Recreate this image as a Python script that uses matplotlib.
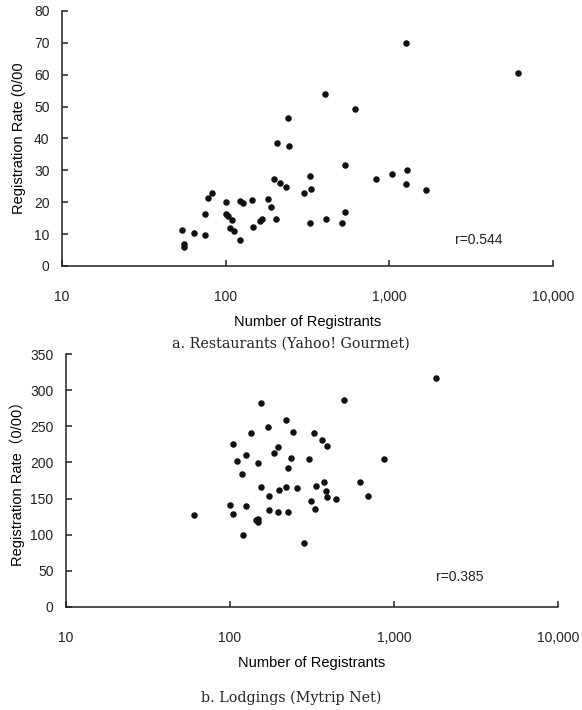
"""Two log-x scatter panels: registration rate vs number of registrants."""
import matplotlib

matplotlib.use("Agg")
import matplotlib.pyplot as plt

plt.rcParams["font.family"] = ["Liberation Sans", "Noto Sans CJK JP", "DejaVu Sans"]

# panel a: restaurants
rest_n = [54, 56, 56, 64, 75, 75, 78, 82, 101, 101, 104, 110, 106, 112, 122, 122,
          128, 145, 147, 163, 166, 181, 190, 202, 198, 207, 216, 234, 242, 245,
          302, 327, 330, 327, 403, 413, 512, 534, 534, 1271, 6124, 618, 830,
          1033, 1288, 1259, 1667]
rest_rate = [11.4, 6.9, 6.1, 10.3, 16.3, 9.8, 21.3, 22.8, 20.1, 16.4, 15.6, 14.4,
             11.9, 11.1, 8.0, 20.4, 19.9, 20.7, 12.3, 14.2, 14.9, 21.1, 18.4, 14.7,
             27.4, 38.5, 26.1, 24.8, 46.5, 37.5, 22.8, 28.3, 24.3, 13.5, 54.0, 14.7,
             13.5, 31.6, 16.8, 70.0, 60.7, 49.4, 27.2, 29.0, 30.1, 25.8, 23.7]

# panel b: lodgings
lodg_n = [60, 99.5, 105, 105, 110, 119, 120, 125, 125, 134, 144, 149, 149, 149,
          155, 155, 170, 174, 174, 185, 195, 195, 199, 218, 218, 226, 226, 236,
          241, 255, 282, 303, 311, 324, 331, 334, 362, 374, 385, 392, 392, 440,
          498, 1811, 865, 621, 694]
lodg_rate = [127, 141, 128, 225.5, 202, 184, 100, 210, 140, 241, 120.5, 122, 117,
             199, 281.6, 165.7, 249, 153, 134, 213, 221.7, 131, 162, 259, 166.5,
             192, 132, 206, 241.6, 164, 89, 205, 147, 240.6, 135, 167.5, 231, 173,
             160.6, 223, 152, 149.5, 286.6, 317, 204.7, 172.6, 153]

x_ticks = [10, 100, 1000, 10000]
x_tick_labels = ["10", "100", "1,000", "10,000"]

W, H = 582, 710
fig = plt.figure(figsize=(W / 100, H / 100), dpi=100)


def px_axes(left, top, right, bottom):
    return fig.add_axes([left / W, 1 - bottom / H, (right - left) / W, (bottom - top) / H])


def style(ax, ymax, ystep):
    ax.set_xscale("log")
    ax.set_xlim(10, 10000)
    ax.set_ylim(0, ymax)
    ax.set_xticks(x_ticks)
    ax.set_xticklabels(x_tick_labels)
    ax.minorticks_off()
    ax.set_yticks(range(0, ymax + 1, ystep))
    for s in ("top", "right"):
        ax.spines[s].set_visible(False)
    for s in ("left", "bottom"):
        ax.spines[s].set_linewidth(1.1)
        ax.spines[s].set_color("#222222")
    ax.tick_params(direction="in", length=4, width=1.1, labelsize=10, colors="#222222")
    ax.tick_params(axis="x", pad=17)
    ax.tick_params(axis="y", pad=9)
    ax.set_xlabel("Number of Registrants", fontsize=10.5, labelpad=8)


ax1 = px_axes(62, 11, 553, 266)
ax1.scatter(rest_n, rest_rate, s=22, color="#111111", linewidths=0, zorder=3)
style(ax1, 80, 10)
ax1.set_ylabel("Registration Rate (0/00", fontsize=10.5, labelpad=6)
ax1.text(3500, 8, "r=0.544", fontsize=10, ha="center", va="center", color="#222222")

ax2 = px_axes(66, 354, 558, 607)
ax2.scatter(lodg_n, lodg_rate, s=22, color="#111111", linewidths=0, zorder=3)
style(ax2, 350, 50)
ax2.set_ylabel("Registration Rate（0/00）", fontsize=10.5, labelpad=4)
ax2.text(2500, 42, "r=0.385", fontsize=10, ha="center", va="center", color="#222222")

fig.text(291 / W, 1 - 344 / H, "a. Restaurants (Yahoo! Gourmet)", family="DejaVu Serif",
         fontsize=10.3, ha="center", va="center", color="#222222")
fig.text(291 / W, 1 - 698 / H, "b. Lodgings (Mytrip Net)", family="DejaVu Serif",
         fontsize=10.3, ha="center", va="center", color="#222222")

fig.savefig("out.png", dpi=100)
